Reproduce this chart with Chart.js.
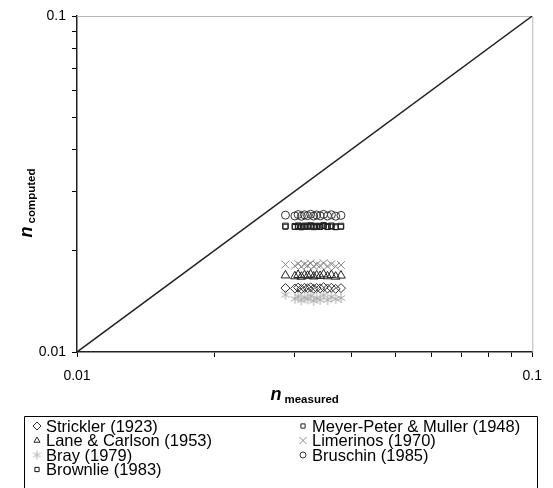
<!DOCTYPE html>
<html>
<head>
<meta charset="utf-8">
<script src="https://cdn.jsdelivr.net/npm/chart.js@4/dist/chart.umd.min.js"></script>
<style>
  html, body { margin: 0; padding: 0; background: #fff; }
  #c { display: block; }
</style>
</head>
<body>
<canvas id="c" width="553" height="488"></canvas>
<script>
// Measured Manning's n for each reach (shared x values)
const nMeasured = [0.0287, 0.0301, 0.0306, 0.0311, 0.0316, 0.0321, 0.0326, 0.0331, 0.0336, 0.0342, 0.0348, 0.0355, 0.0362, 0.0370, 0.0380];

// Computed n for each method
const strickler = [0.01550, 0.01545, 0.01555, 0.01540, 0.01552, 0.01548, 0.01558, 0.01543, 0.01550, 0.01547, 0.01560, 0.01545, 0.01553, 0.01541, 0.01549];
const meyerPeter = [0.02372, 0.02366, 0.02376, 0.02361, 0.02373, 0.02369, 0.02379, 0.02363, 0.02371, 0.02367, 0.02381, 0.02365, 0.02374, 0.02362, 0.02370];
const laneCarlson = [0.01690, 0.01680, 0.01695, 0.01675, 0.01692, 0.01686, 0.01700, 0.01678, 0.01690, 0.01684, 0.01702, 0.01680, 0.01694, 0.01676, 0.01688];
const limerinos = [0.01820, 0.01805, 0.01830, 0.01795, 0.01825, 0.01810, 0.01835, 0.01800, 0.01820, 0.01808, 0.01838, 0.01802, 0.01826, 0.01798, 0.01815];
const bray = [0.01480, 0.01440, 0.01465, 0.01425, 0.01455, 0.01435, 0.01470, 0.01420, 0.01450, 0.01430, 0.01475, 0.01428, 0.01460, 0.01438, 0.01448];
const bruschin = [0.02555, 0.02540, 0.02565, 0.02535, 0.02560, 0.02545, 0.02570, 0.02538, 0.02558, 0.02542, 0.02568, 0.02540, 0.02562, 0.02536, 0.02550];
const brownlie = [0.02360, 0.02355, 0.02365, 0.02350, 0.02362, 0.02358, 0.02368, 0.02352, 0.02360, 0.02356, 0.02370, 0.02354, 0.02363, 0.02351, 0.02359];

const seriesNames = ['Strickler (1923)', 'Meyer-Peter & Muller (1948)', 'Lane & Carlson (1953)', 'Limerinos (1970)', 'Bray (1979)', 'Bruschin (1985)', 'Brownlie (1983)'];

// Line of perfect agreement
const lineEnds = [0.01, 0.1];

// Tick marks on both log axes, and the two labelled decades
const tickValues = [0.01, 0.02, 0.03, 0.04, 0.05, 0.06, 0.07, 0.08, 0.09, 0.1];
const axisTickLabels = ['0.01', '0.1'];

const FONT = "'Liberation Sans', Arial, sans-serif";

// Asterisk marker (x plus vertical bar)
function asterisk(size, color) {
  const cv = document.createElement('canvas');
  cv.width = size; cv.height = size;
  const g = cv.getContext('2d');
  g.strokeStyle = color; g.lineWidth = 1;
  const m = size / 2, r = size / 2 - 1;
  g.beginPath();
  g.moveTo(m - r * 0.87, m - r * 0.5); g.lineTo(m + r * 0.87, m + r * 0.5);
  g.moveTo(m - r * 0.87, m + r * 0.5); g.lineTo(m + r * 0.87, m - r * 0.5);
  g.moveTo(m, m - r); g.lineTo(m, m + r);
  g.stroke();
  return cv;
}
const brayPlot = asterisk(12, '#a8a8a8');
const brayLegend = asterisk(11, '#b4b4b4');

function pts(ys) { return nMeasured.map((x, i) => ({ x: x, y: ys[i] })); }

function series(label, ys, style, color, radius, legendStyle, legendRadius) {
  return {
    type: 'scatter', label: label, data: pts(ys),
    pointStyle: style, pointRadius: radius, pointHoverRadius: radius,
    pointBorderColor: color, pointBackgroundColor: 'rgba(0,0,0,0)', pointBorderWidth: 1,
    legendStyle: legendStyle || style, legendRadius: legendRadius || 3, legendColor: color
  };
}

const datasets = [
  series(seriesNames[0], strickler, 'rectRot', '#333', 4.5, 'rectRot', 4),
  series(seriesNames[1], meyerPeter, 'rect', '#222', 4, 'rect', 3),
  series(seriesNames[2], laneCarlson, 'triangle', '#222', 5, 'triangle', 3.5),
  series(seriesNames[3], limerinos, 'crossRot', '#8a8a8a', 5.5, 'crossRot', 5),
  series(seriesNames[4], bray, brayPlot, '#a8a8a8', 6, brayLegend, 5),
  series(seriesNames[5], bruschin, 'circle', '#333', 4, 'circle', 3),
  series(seriesNames[6], brownlie, 'rect', '#111', 3.5, 'rect', 3),
  {
    type: 'line', label: 'agreement',
    data: lineEnds.map(v => ({ x: v, y: v })),
    borderColor: '#222', borderWidth: 1.5, pointRadius: 0, fill: false
  }
];

function tickLabel(v) {
  const l = Math.log10(v);
  if (Math.abs(l - Math.round(l)) > 1e-6) return '';
  const e = Math.round(l);
  return e === -2 ? axisTickLabels[0] : e === -1 ? axisTickLabels[1] : '';
}

const decor = {
  id: 'decor',
  beforeDatasetsDraw(chart) {
    const { ctx, chartArea: a } = chart;
    ctx.save();
    ctx.strokeStyle = '#b8b8b8';
    ctx.lineWidth = 1;
    ctx.beginPath();
    ctx.moveTo(a.left, a.top + 0.5); ctx.lineTo(a.right + 0.5, a.top + 0.5);
    ctx.lineTo(a.right + 0.5, a.bottom);
    ctx.stroke();
    ctx.restore();
  },
  afterDraw(chart) {
    const { ctx, chartArea: a } = chart;
    ctx.save();
    ctx.fillStyle = '#000';
    ctx.textBaseline = 'alphabetic';

    // axis titles: italic n with a small bold subscript
    const drawTitle = (sub) => {
      ctx.font = 'bold italic 18px ' + FONT;
      const w1 = ctx.measureText('n').width;
      ctx.font = 'bold 11.5px ' + FONT;
      const w2 = ctx.measureText(sub).width;
      const total = w1 + 3 + w2;
      ctx.font = 'bold italic 18px ' + FONT;
      ctx.textAlign = 'left';
      ctx.fillText('n', -total / 2, 0);
      ctx.font = 'bold 11.5px ' + FONT;
      ctx.fillText(sub, -total / 2 + w1 + 3, 3);
    };
    ctx.save();
    ctx.translate((a.left + a.right) / 2, 400);
    drawTitle('measured');
    ctx.restore();

    ctx.save();
    ctx.translate(32, 203);
    ctx.rotate(-Math.PI / 2);
    drawTitle('computed');
    ctx.restore();

    // legend box (open at the bottom edge of the canvas)
    ctx.strokeStyle = '#000';
    ctx.lineWidth = 1;
    ctx.beginPath();
    ctx.moveTo(24.5, 495); ctx.lineTo(24.5, 416.5); ctx.lineTo(537.5, 416.5); ctx.lineTo(537.5, 495);
    ctx.stroke();

    const colX = [37, 303];
    const rowY0 = 426, rowH = 14.5;
    ctx.font = '16.5px ' + FONT;
    ctx.textBaseline = 'middle';
    ctx.textAlign = 'left';
    seriesNames.forEach((name, k) => {
      const ds = chart.data.datasets[k];
      const col = k % 2, row = Math.floor(k / 2);
      const x = colX[col], y = rowY0 + row * rowH;
      ctx.save();
      ctx.strokeStyle = ds.legendColor;
      ctx.fillStyle = 'rgba(0,0,0,0)';
      Chart.helpers.drawPoint(ctx, { pointStyle: ds.legendStyle, rotation: 0, radius: ds.legendRadius, borderWidth: 1 }, x, y);
      ctx.restore();
      ctx.fillStyle = '#000';
      ctx.fillText(ds.label, x + 9, y + 1);
    });
    ctx.restore();
  }
};

const axisCommon = {
  type: 'logarithmic', min: 0.01, max: 0.1,
  grid: { drawOnChartArea: false, drawTicks: true, tickLength: 5, color: '#000', lineWidth: 1 },
  border: { color: '#222', width: 1.5 },
  afterBuildTicks: (s) => { s.ticks = tickValues.map(v => ({ value: v, major: false })); },
  title: { display: false }
};
const tickCommon = {
  autoSkip: false, maxRotation: 0, color: '#000',
  font: { family: FONT, size: 14 },
  callback: (v) => tickLabel(v)
};

new Chart(document.getElementById('c'), {
  data: { datasets: datasets },
  options: {
    responsive: false, animation: false, devicePixelRatio: 1,
    layout: { padding: { left: 0, top: 16, right: 20, bottom: 108 } },
    plugins: { legend: { display: false }, tooltip: { enabled: false } },
    scales: {
      x: Object.assign({}, axisCommon, {
        position: 'bottom',
        ticks: Object.assign({}, tickCommon, { padding: 11 }),
        afterFit: (s) => { s.height = 28; }
      }),
      y: Object.assign({}, axisCommon, {
        position: 'left',
        ticks: Object.assign({}, tickCommon, { padding: 6 }),
        afterFit: (s) => { s.width = 77; }
      })
    }
  },
  plugins: [decor]
});
</script>
</body>
</html>
